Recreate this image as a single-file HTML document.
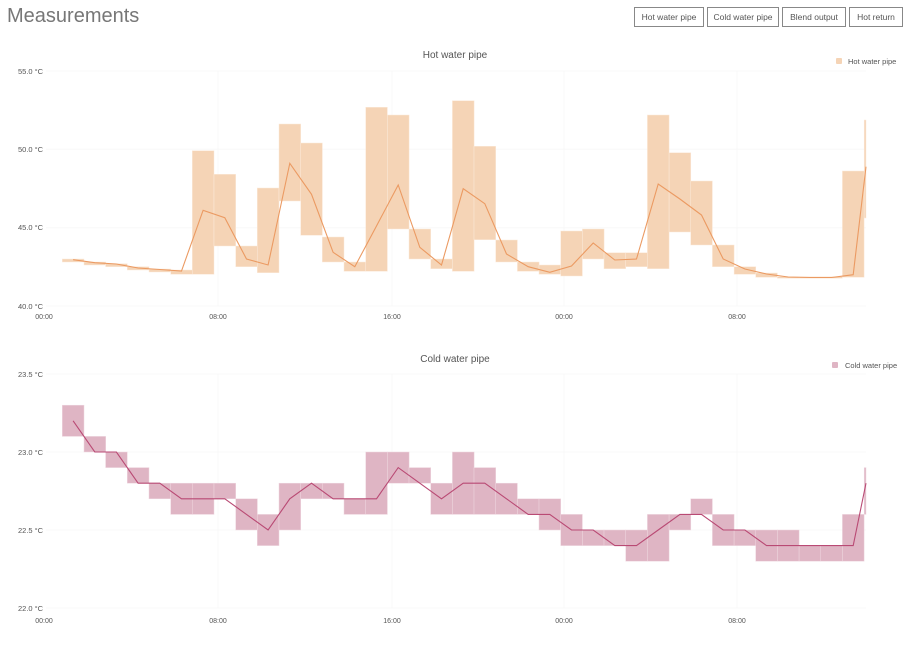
<!DOCTYPE html>
<html><head><meta charset="utf-8"><style>
html,body{margin:0;padding:0;background:#fff;width:912px;height:650px;overflow:hidden}
svg{display:block;font-family:"Liberation Sans",sans-serif}
</style></head><body>
<svg width="912" height="650" viewBox="0 0 912 650" xmlns="http://www.w3.org/2000/svg">
<text x="7" y="22" font-size="20" fill="#777">Measurements</text>
<g fill="#fff" stroke="#888" stroke-width="1">
<rect x="634.5" y="7.5" width="69" height="19"/>
<rect x="707.5" y="7.5" width="71" height="19"/>
<rect x="782.5" y="7.5" width="63" height="19"/>
<rect x="849.5" y="7.5" width="53" height="19"/>
</g>
<g font-size="8.5" fill="#555" text-anchor="middle">
<text x="669" y="20">Hot water pipe</text>
<text x="743" y="20">Cold water pipe</text>
<text x="814" y="20">Blend output</text>
<text x="876" y="20">Hot return</text>
</g>

<!-- HOT CHART -->
<text x="455" y="58" font-size="10" fill="#555" text-anchor="middle">Hot water pipe</text>
<rect x="836" y="58" width="6" height="6" rx="1" fill="#f5d4b6"/>
<text x="848" y="64" font-size="7.5" fill="#555">Hot water pipe</text>
<g stroke="#f8f8f8" stroke-width="1">
<line x1="46" y1="71" x2="866" y2="71"/><line x1="46" y1="149.3" x2="866" y2="149.3"/>
<line x1="46" y1="227.7" x2="866" y2="227.7"/><line x1="46" y1="306" x2="866" y2="306"/>
<line x1="218" y1="71" x2="218" y2="306"/><line x1="392" y1="71" x2="392" y2="306"/>
<line x1="564" y1="71" x2="564" y2="306"/><line x1="737" y1="71" x2="737" y2="306"/>
</g>
<g font-size="7.5" fill="#555">
<text x="18" y="74">55.0 °C</text><text x="18" y="152">50.0 °C</text>
<text x="18" y="230">45.0 °C</text><text x="18" y="309">40.0 °C</text>
</g>
<g font-size="7" fill="#555" text-anchor="middle">
<text x="44" y="319">00:00</text><text x="218" y="319">08:00</text><text x="392" y="319">16:00</text>
<text x="564" y="319">00:00</text><text x="737" y="319">08:00</text>
</g>
<g fill="#f5d4b6" stroke="#fbe9da" stroke-width="0.5">
<rect x="62.3" y="259" width="21.7" height="3"/>
<rect x="84.0" y="262" width="21.7" height="3"/>
<rect x="105.6" y="263.7" width="21.7" height="3"/>
<rect x="127.3" y="266.7" width="21.7" height="3.3"/>
<rect x="149.0" y="269" width="21.7" height="3"/>
<rect x="170.7" y="270" width="21.7" height="4.3"/>
<rect x="192.3" y="150.7" width="21.7" height="123.6"/>
<rect x="214.0" y="174.3" width="21.7" height="71.7"/>
<rect x="235.7" y="246" width="21.7" height="20.7"/>
<rect x="257.3" y="188" width="21.7" height="84.7"/>
<rect x="279.0" y="124" width="21.7" height="77"/>
<rect x="300.7" y="143" width="21.7" height="92.3"/>
<rect x="322.3" y="237" width="21.7" height="25"/>
<rect x="344.0" y="262" width="21.7" height="9.3"/>
<rect x="365.7" y="107.3" width="21.7" height="164"/>
<rect x="387.4" y="115" width="21.7" height="114"/>
<rect x="409.0" y="229" width="21.7" height="30"/>
<rect x="430.7" y="259" width="21.7" height="9.7"/>
<rect x="452.4" y="100.7" width="21.7" height="170.6"/>
<rect x="474.0" y="146.3" width="21.7" height="93.4"/>
<rect x="495.7" y="240" width="21.7" height="22"/>
<rect x="517.4" y="262" width="21.7" height="9.3"/>
<rect x="539.0" y="265" width="21.7" height="9.3"/>
<rect x="560.7" y="231" width="21.7" height="45"/>
<rect x="582.4" y="229" width="21.7" height="30"/>
<rect x="604.0" y="252.7" width="21.7" height="16"/>
<rect x="625.7" y="252.7" width="21.7" height="14"/>
<rect x="647.4" y="115" width="21.7" height="153.7"/>
<rect x="669.1" y="152.7" width="21.7" height="79.3"/>
<rect x="690.7" y="181" width="21.7" height="64"/>
<rect x="712.4" y="245" width="21.7" height="21.7"/>
<rect x="734.1" y="266.7" width="21.7" height="7.6"/>
<rect x="755.7" y="273" width="21.7" height="4.3"/>
<rect x="777.4" y="276.7" width="21.7" height="1.6"/>
<rect x="799.1" y="276.7" width="21.7" height="1.6"/>
<rect x="820.7" y="276.7" width="21.7" height="1.6"/>
<rect x="842.4" y="171" width="21.7" height="106.3"/>
<rect x="864.2" y="120" width="1.8" height="98"/>
</g>
<polyline fill="none" stroke="#eb9a62" stroke-width="1.1" points="73.1,259.7 94.8,262.7 116.4,264 138.1,268 159.8,269.5 181.5,271 203.1,210.3 224.8,217.7 246.5,259 268.1,265 289.8,163.3 311.5,194.3 333.1,252.3 354.8,266.7 376.5,226 398.2,185 419.8,247.3 441.5,265 463.2,188.7 484.8,203.7 506.5,254 528.2,266.7 549.8,272.3 571.5,266 593.2,243 614.8,260 636.5,259 658.2,184 679.9,199 701.5,215 723.2,259 744.9,269 766.5,274 788.2,277 809.9,277.5 831.5,277.5 853.2,274.7 866,166.7"/>

<!-- COLD CHART -->
<text x="455" y="362" font-size="10" fill="#555" text-anchor="middle">Cold water pipe</text>
<rect x="832" y="362" width="6" height="6" rx="1" fill="#dfb5c4"/>
<text x="845" y="368" font-size="7.5" fill="#555">Cold water pipe</text>
<g stroke="#f8f8f8" stroke-width="1">
<line x1="46" y1="374" x2="866" y2="374"/><line x1="46" y1="452" x2="866" y2="452"/>
<line x1="46" y1="530" x2="866" y2="530"/><line x1="46" y1="608" x2="866" y2="608"/>
<line x1="218" y1="374" x2="218" y2="608"/><line x1="392" y1="374" x2="392" y2="608"/>
<line x1="564" y1="374" x2="564" y2="608"/><line x1="737" y1="374" x2="737" y2="608"/>
</g>
<g font-size="7.5" fill="#555">
<text x="18" y="377">23.5 °C</text><text x="18" y="455">23.0 °C</text>
<text x="18" y="533">22.5 °C</text><text x="18" y="611">22.0 °C</text>
</g>
<g font-size="7" fill="#555" text-anchor="middle">
<text x="44" y="623">00:00</text><text x="218" y="623">08:00</text><text x="392" y="623">16:00</text>
<text x="564" y="623">00:00</text><text x="737" y="623">08:00</text>
</g>
<g fill="#dfb5c4" stroke="#efd8e0" stroke-width="0.5">
<rect x="62.3" y="405.2" width="21.7" height="31.2"/>
<rect x="84.0" y="436.4" width="21.7" height="15.6"/>
<rect x="105.6" y="452" width="21.7" height="15.6"/>
<rect x="127.3" y="467.6" width="21.7" height="15.6"/>
<rect x="149.0" y="483.2" width="21.7" height="15.6"/>
<rect x="170.7" y="483.2" width="21.7" height="31.2"/>
<rect x="192.3" y="483.2" width="21.7" height="31.2"/>
<rect x="214.0" y="483.2" width="21.7" height="15.6"/>
<rect x="235.7" y="498.8" width="21.7" height="31.2"/>
<rect x="257.3" y="514.4" width="21.7" height="31.2"/>
<rect x="279.0" y="483.2" width="21.7" height="46.8"/>
<rect x="300.7" y="483.2" width="21.7" height="15.6"/>
<rect x="322.3" y="483.2" width="21.7" height="15.6"/>
<rect x="344.0" y="498.8" width="21.7" height="15.6"/>
<rect x="365.7" y="452" width="21.7" height="62.4"/>
<rect x="387.4" y="452" width="21.7" height="31.2"/>
<rect x="409.0" y="467.6" width="21.7" height="15.6"/>
<rect x="430.7" y="483.2" width="21.7" height="31.2"/>
<rect x="452.4" y="452" width="21.7" height="62.4"/>
<rect x="474.0" y="467.6" width="21.7" height="46.8"/>
<rect x="495.7" y="483.2" width="21.7" height="31.2"/>
<rect x="517.4" y="498.8" width="21.7" height="15.6"/>
<rect x="539.0" y="498.8" width="21.7" height="31.2"/>
<rect x="560.7" y="514.4" width="21.7" height="31.2"/>
<rect x="582.4" y="530" width="21.7" height="15.6"/>
<rect x="604.0" y="530" width="21.7" height="15.6"/>
<rect x="625.7" y="530" width="21.7" height="31.2"/>
<rect x="647.4" y="514.4" width="21.7" height="46.8"/>
<rect x="669.1" y="514.4" width="21.7" height="15.6"/>
<rect x="690.7" y="498.8" width="21.7" height="15.6"/>
<rect x="712.4" y="514.4" width="21.7" height="31.2"/>
<rect x="734.1" y="530" width="21.7" height="15.6"/>
<rect x="755.7" y="530" width="21.7" height="31.2"/>
<rect x="777.4" y="530" width="21.7" height="31.2"/>
<rect x="799.1" y="545.6" width="21.7" height="15.6"/>
<rect x="820.7" y="545.6" width="21.7" height="15.6"/>
<rect x="842.4" y="514.4" width="21.7" height="46.8"/>
<rect x="864.2" y="467.6" width="1.8" height="46.8"/>
</g>
<polyline fill="none" stroke="#b94a74" stroke-width="1.1" points="73.1,420.8 94.8,452 116.4,452 138.1,483.2 159.8,483.2 181.5,498.8 203.1,498.8 224.8,498.8 246.5,514.4 268.1,530 289.8,498.8 311.5,483.2 333.1,498.8 354.8,498.8 376.5,498.8 398.2,467.6 419.8,483.2 441.5,498.8 463.2,483.2 484.8,483.2 506.5,498.8 528.2,514.4 549.8,514.4 571.5,530 593.2,530 614.8,545.6 636.5,545.6 658.2,530 679.9,514.4 701.5,514.4 723.2,530 744.9,530 766.5,545.6 788.2,545.6 809.9,545.6 831.5,545.6 853.2,545.6 866,483.2"/>
</svg>
</body></html>
